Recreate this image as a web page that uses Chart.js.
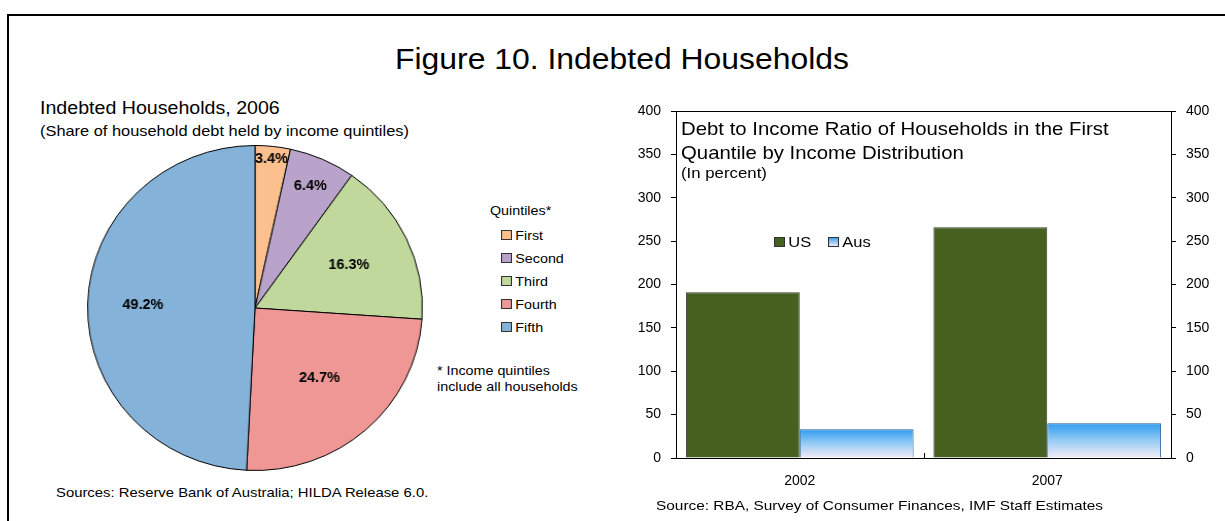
<!DOCTYPE html>
<html>
<head>
<meta charset="utf-8">
<script src="https://cdn.jsdelivr.net/npm/chart.js@4"></script>
<style>
  html, body { margin: 0; padding: 0; overflow: hidden; background: #fff; }
  body { width: 1225px; height: 521px; position: relative; font-family: Arial, "Liberation Sans", sans-serif; color: #000; }
  .frame { position: absolute; left: 7px; top: 14px; width: 1300px; height: 600px; border: 2px solid #000; }
  .txt { position: absolute; white-space: nowrap; line-height: 1; transform-origin: 0 0; transform: scaleX(1.1); }
  #pieWrap { position: absolute; left: 85px; top: 138px; width: 340px; height: 340px; transform: scaleX(1.03); transform-origin: 170px 170px; }
  #barWrap { position: absolute; left: 620px; top: 100px; width: 600px; height: 400px; }
  .leg { position: absolute; font-size: 13px; line-height: 1; white-space: nowrap; transform-origin: 0 0; transform: scaleX(1.1); }
  .sw { display: inline-block; width: 8px; height: 8px; border: 1px solid #333; margin-right: 3px; vertical-align: 0px; }
</style>
</head>
<body>
<div class="frame"></div>

<div class="txt" style="left:395px;top:45px;font-size:29px;">Figure 10. Indebted Households</div>

<div class="txt" style="left:40px;top:100px;font-size:17.5px;transform:scaleX(1.12);">Indebted Households, 2006</div>
<div class="txt" style="left:40px;top:124px;font-size:14.5px;transform:scaleX(1.13);">(Share of household debt held by income quintiles)</div>

<div id="pieWrap"><canvas id="pie"></canvas></div>
<div id="pieLegend"></div>
<div class="txt" style="left:437px;top:363px;font-size:13px;line-height:16px;">* Income quintiles<br>include all households</div>
<div class="txt" style="left:56px;top:486px;font-size:13.5px;transform:scaleX(1.1);">Sources: Reserve Bank of Australia; HILDA Release 6.0.</div>

<div id="barWrap"><canvas id="bar"></canvas></div>
<div class="txt" style="left:681px;top:117px;font-size:18.5px;line-height:24px;">Debt to Income Ratio of Households in the First<br>Quantile by Income Distribution</div>
<div class="txt" style="left:681px;top:165px;font-size:15px;transform:scaleX(1.12);">(In percent)</div>
<div id="barLegend"></div>
<div class="txt" style="left:656px;top:499px;font-size:13.5px;transform:scaleX(1.14);">Source: RBA, Survey of Consumer Finances, IMF Staff Estimates</div>

<script>
// pie: share of household debt by income quintile, 2006
var quintiles = ["First", "Second", "Third", "Fourth", "Fifth"];
var debtShare = [3.4, 6.4, 16.3, 24.7, 49.2];
var pieColors = ["#FCC08E", "#B9A3CB", "#C0D89C", "#EE9794", "#85B2D9"];
var labelRadius = [0.92, 0.82, 0.62, 0.58, 0.67];

// bars: debt to income ratio, first quintile
var years = ["2002", "2007"];
var usRatio = [191, 266];
var ausRatio = [33, 40];
var yTicks = [0, 50, 100, 150, 200, 250, 300, 350, 400];

// legends as html
var pl = document.getElementById("pieLegend");
var h = '<div class="leg" style="left:490px;top:204px;">Quintiles*</div>';
for (var i = 0; i < quintiles.length; i++) {
  h += '<div class="leg" style="left:501px;top:' + (229 + i * 23) + 'px;"><span class="sw" style="background:' + pieColors[i] + '"></span>' + quintiles[i] + '</div>';
}
pl.innerHTML = h;
document.getElementById("barLegend").innerHTML =
  '<div class="leg" style="left:774px;top:234px;font-size:15px;"><span class="sw" style="background:#46601F"></span>US</div>' +
  '<div class="leg" style="left:828px;top:234px;font-size:15px;"><span class="sw" style="background:linear-gradient(#3DA3F2,#F3EAF6)"></span>Aus</div>';

var pieLabels = {
  id: "pieLabels",
  afterDatasetsDraw: function(chart) {
    var c = chart.ctx;
    var arcs = chart.getDatasetMeta(0).data;
    c.save();
    c.font = "bold 14px Arial, 'Liberation Sans', sans-serif";
    c.fillStyle = "#000";
    c.textAlign = "center";
    c.textBaseline = "middle";
    arcs.forEach(function(a, i) {
      var mid = (a.startAngle + a.endAngle) / 2;
      var r = a.outerRadius * labelRadius[i];
      c.fillText(debtShare[i].toFixed(1) + "%", a.x + Math.cos(mid) * r, a.y + Math.sin(mid) * r);
    });
    c.restore();
  }
};

new Chart(document.getElementById("pie"), {
  type: "pie",
  data: {
    labels: quintiles,
    datasets: [{
      data: debtShare,
      backgroundColor: pieColors,
      borderColor: "#000",
      borderWidth: 1
    }]
  },
  options: {
    responsive: true,
    maintainAspectRatio: false,
    animation: false,
    layout: { padding: 7 },
    plugins: { legend: { display: false }, tooltip: { enabled: false } }
  },
  plugins: [pieLabels]
});

var frame = {
  id: "frame",
  afterDraw: function(chart) {
    var a = chart.chartArea, c = chart.ctx;
    var x = chart.scales.x;
    c.save();
    c.strokeStyle = "#000";
    c.lineWidth = 1;
    c.strokeRect(a.left + 0.5, a.top + 0.5, a.right - a.left, a.bottom - a.top);
    var mx = Math.round(x.getPixelForValue(0.5)) + 0.5;
    c.beginPath();
    c.moveTo(mx, a.bottom);
    c.lineTo(mx, a.bottom - 5);
    c.stroke();
    c.restore();
  }
};

function ausFill(ctx) {
  var chart = ctx.chart;
  if (!chart.chartArea || ctx.raw == null) return "#3DA3F2";
  var y = chart.scales.y;
  var g = chart.ctx.createLinearGradient(0, y.getPixelForValue(ctx.raw), 0, y.getPixelForValue(0));
  g.addColorStop(0, "#2E9BF0");
  g.addColorStop(0.45, "#8CC8F4");
  g.addColorStop(1, "#F6ECF7");
  return g;
}

function fixWidth(w) {
  return function(s) { s.width = w; s.paddingTop = 0; s.paddingBottom = 0; };
}

var tickFont = { family: "Arial, 'Liberation Sans', sans-serif", size: 14 };

new Chart(document.getElementById("bar"), {
  type: "bar",
  data: {
    labels: years,
    datasets: [
      { label: "US", data: usRatio, backgroundColor: "#46601F", borderColor: "#3a3a3a", borderWidth: 1, yAxisID: "y" },
      { label: "Aus", data: ausRatio, backgroundColor: ausFill, borderColor: "#2A5F92", borderWidth: 1, yAxisID: "y" }
    ]
  },
  options: {
    responsive: true,
    maintainAspectRatio: false,
    animation: false,
    layout: { padding: { top: 11, left: 0, right: 0, bottom: 0 } },
    datasets: { bar: { barPercentage: 1, categoryPercentage: 0.92 } },
    plugins: { legend: { display: false }, tooltip: { enabled: false } },
    scales: {
      x: {
        grid: { display: false },
        border: { display: true, color: "#000", width: 1 },
        ticks: { color: "#000", font: tickFont, padding: 7 },
        afterFit: function(s) { s.height = 42; s.paddingLeft = 0; s.paddingRight = 0; }
      },
      y: {
        position: "left",
        min: 0, max: 400,
        afterBuildTicks: function(s) { s.ticks = yTicks.map(function(v) { return { value: v }; }); },
        grid: { drawOnChartArea: false, drawTicks: true, tickLength: 5, color: "#000" },
        border: { display: true, color: "#000", width: 1 },
        ticks: { color: "#000", font: tickFont, padding: 10 },
        afterFit: fixWidth(56)
      },
      y2: {
        position: "right",
        min: 0, max: 400,
        afterBuildTicks: function(s) { s.ticks = yTicks.map(function(v) { return { value: v }; }); },
        grid: { drawOnChartArea: false, drawTicks: true, tickLength: 5, color: "#000" },
        border: { display: true, color: "#000", width: 1 },
        ticks: { color: "#000", font: tickFont, padding: 10 },
        afterFit: fixWidth(49)
      }
    }
  },
  plugins: [frame]
});
</script>
</body>
</html>
